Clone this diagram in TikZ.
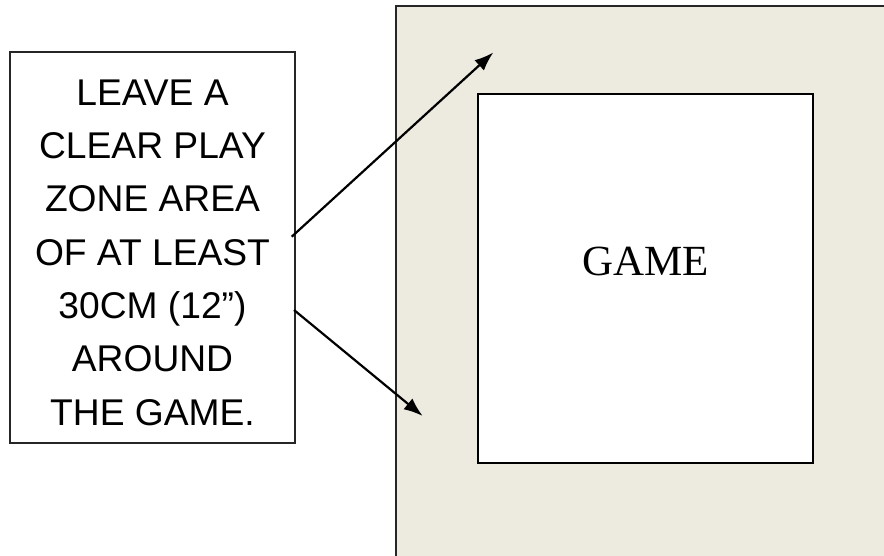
\documentclass[tikz,border=0pt]{standalone}
\usepackage{fontspec}
\newfontfamily\arialf{Liberation Sans}
\newfontfamily\tnrf{Liberation Serif}
\usetikzlibrary{arrows.meta}
\definecolor{zonebg}{RGB}{237,234,224}
\tikzset{
  zone/.style={draw=black!85, line width=1.6pt, fill=zonebg},
  gamebox/.style={draw=black, line width=2pt, fill=white, minimum width=335.6pt, minimum height=369pt, inner sep=0pt},
  notebox/.style={draw=black!85, line width=1.5pt, fill=white, minimum width=285pt, minimum height=391pt, inner sep=0pt},
  notetext/.style={align=center, font=\arialf\fontsize{37.2}{53.3}\selectfont, inner sep=0pt},
  gametext/.style={font=\tnrf\fontsize{43}{50}\selectfont, inner sep=0pt},
  pointer/.style={line width=2.2pt, -{Latex[length=19pt,width=14pt]}}
}
\begin{document}
\begin{tikzpicture}[x=1pt,y=-1pt]
\useasboundingbox (0,0) rectangle (884,556);
\clip (0,0) rectangle (884,556);
\draw[zone] (396,6) rectangle (900,580);
\node[gamebox] (game) at (645.5,278.8) {};
\node[gametext] (gamelabel) at (645.5,261.5) {GAME};
\node[notebox] (note) at (152.5,247.5) {};
\node[notetext] (notelabel) at (152.5,252.5) {LEAVE A\\CLEAR PLAY\\ZONE AREA\\OF AT LEAST\\30CM (12”)\\AROUND\\THE GAME.};
\coordinate (upstart) at (291.7,236.7);
\coordinate (uptip) at (493.3,52.5);
\coordinate (downstart) at (294,310);
\coordinate (downtip) at (422.7,416);
\draw[pointer] (upstart) -- (uptip);
\draw[pointer] (downstart) -- (downtip);
\end{tikzpicture}
\end{document}
